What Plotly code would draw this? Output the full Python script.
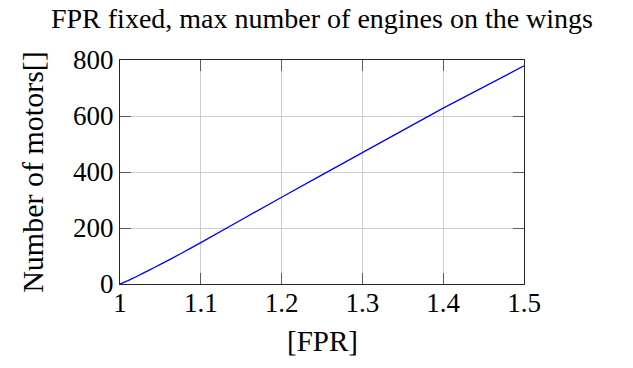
import plotly.graph_objects as go

# Fan pressure ratio sweep and the resulting maximum engine count on the wings
fpr = [1.0, 1.01, 1.02, 1.035, 1.05, 1.075, 1.1, 1.2, 1.3, 1.4, 1.5]
motors = [0, 12, 26, 48, 70, 108, 148, 310, 469, 628, 779]

x_ticks = [1, 1.1, 1.2, 1.3, 1.4, 1.5]
x_tick_text = ["1", "1.1", "1.2", "1.3", "1.4", "1.5"]
y_ticks = [0, 200, 400, 600, 800]

FONT = "Liberation Serif"
PLOT_H = 368 - 60 - 84

fig = go.Figure()
fig.add_trace(go.Scatter(
    x=fpr, y=motors, mode="lines",
    line=dict(color="#0000ff", width=1.3, shape="spline", smoothing=0.3),
    showlegend=False, hoverinfo="skip",
))

axis_common = dict(
    showline=True, linecolor="#262626", linewidth=1.2, mirror="ticks",
    ticks="inside", ticklen=11, tickcolor="#5a5a5a", tickwidth=1.2,
    showgrid=True, gridcolor="#cccccc", gridwidth=1,
    zeroline=False,
    tickfont=dict(family=FONT, size=27, color="#000"),
)

fig.update_xaxes(
    range=[1, 1.5], tickvals=x_ticks, ticktext=x_tick_text,
    ticklabelstandoff=-6,
    **axis_common,
)
fig.update_yaxes(
    range=[0, 800], tickvals=y_ticks,
    title=dict(text="Number of motors[]", font=dict(family=FONT, size=30, color="#000"), standoff=20),
    **axis_common,
)

# x-axis label placed below the tick labels
fig.add_annotation(
    text="[FPR]", xref="paper", yref="paper",
    x=0.5, y=-(341 - 284) / PLOT_H, xanchor="center", yanchor="middle",
    showarrow=False, font=dict(family=FONT, size=29, color="#000"),
)

fig.update_layout(
    width=633, height=368,
    margin=dict(l=120, r=109, t=60, b=84),
    paper_bgcolor="white", plot_bgcolor="white",
    title=dict(
        text="FPR fixed, max number of engines on the wings",
        font=dict(family=FONT, size=28, color="#000"),
        x=0.5, xanchor="center", xref="paper",
        y=1 - 18 / 368, yanchor="middle",
    ),
)

fig.write_html("out.html")
